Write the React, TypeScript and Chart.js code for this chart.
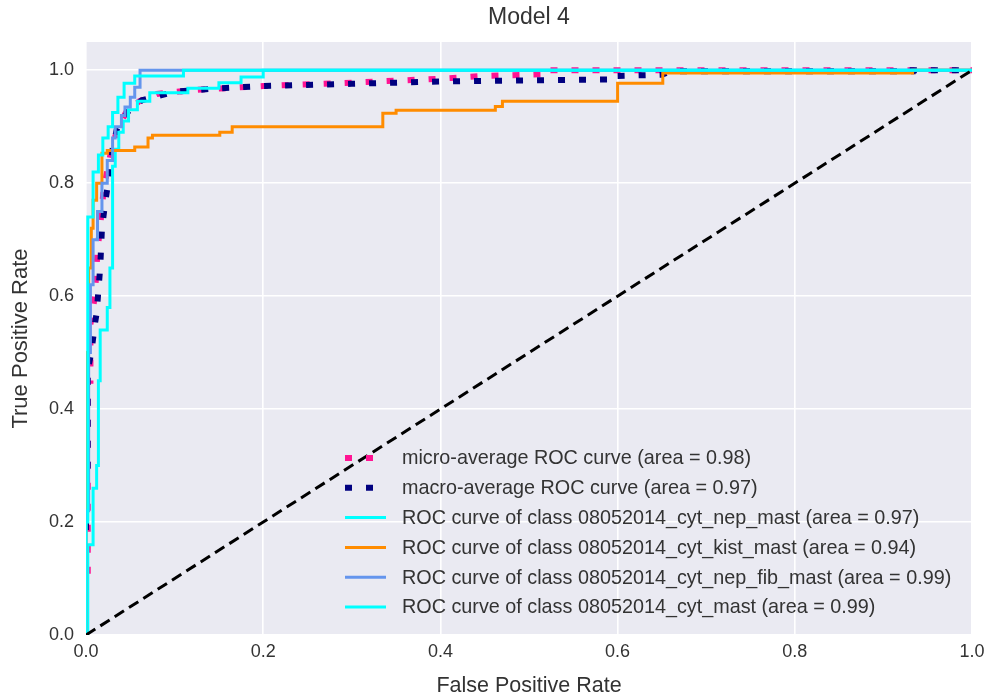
import React, { useEffect, useRef } from 'react';
import { Chart, registerables } from 'chart.js';

Chart.register(...registerables);

const TITLE = 'Model 4';
const X_LABEL = 'False Positive Rate';
const Y_LABEL = 'True Positive Rate';
const X_TICKS = [0, 0.2, 0.4, 0.6, 0.8, 1.0];
const Y_TICKS = [0, 0.2, 0.4, 0.6, 0.8, 1.0];

const LABELS = [
  'micro-average ROC curve (area = 0.98)',
  'macro-average ROC curve (area = 0.97)',
  'ROC curve of class 08052014_cyt_nep_mast (area = 0.97)',
  'ROC curve of class 08052014_cyt_kist_mast (area = 0.94)',
  'ROC curve of class 08052014_cyt_nep_fib_mast (area = 0.99)',
  'ROC curve of class 08052014_cyt_mast (area = 0.99)',
];
const COLORS = ['#FF1493', '#000080', '#00FFFF', '#FF8C00', '#6495ED', '#00FFFF'];

// [fpr, tpr]
const microAvg = [
  [0, 0], [0, 0.1], [0.002, 0.1], [0.002, 0.45], [0.005, 0.45], [0.005, 0.55], [0.01, 0.6],
  [0.013, 0.68], [0.017, 0.74], [0.02, 0.79], [0.025, 0.83], [0.03, 0.87], [0.037, 0.9],
  [0.045, 0.925], [0.06, 0.945], [0.08, 0.958], [0.12, 0.965], [0.2, 0.972], [0.3, 0.978],
  [0.4, 0.985], [0.45, 0.99], [0.52, 0.993], [0.52, 1.0], [1, 1],
];
const macroAvg = [
  [0, 0], [0, 0.3], [0.002, 0.3], [0.002, 0.47], [0.006, 0.5], [0.01, 0.55], [0.012, 0.57],
  [0.016, 0.65], [0.018, 0.72], [0.022, 0.77], [0.027, 0.82], [0.03, 0.86], [0.035, 0.897],
  [0.047, 0.926], [0.063, 0.947], [0.1, 0.962], [0.15, 0.968], [0.2, 0.972], [0.3, 0.976],
  [0.4, 0.98], [0.6, 0.984], [0.6, 0.99], [0.65, 0.992], [0.66, 0.998], [0.933, 0.998],
  [0.933, 1.0], [1, 1],
];
const cytNepMast = [
  [0, 0], [0.002, 0], [0.002, 0.16], [0.008, 0.16], [0.008, 0.26], [0.012, 0.26], [0.012, 0.3],
  [0.014, 0.3], [0.014, 0.45], [0.016, 0.45], [0.016, 0.54], [0.024, 0.54], [0.024, 0.58],
  [0.027, 0.58], [0.027, 0.65], [0.03, 0.65], [0.03, 0.83], [0.033, 0.83], [0.033, 0.86],
  [0.037, 0.86], [0.037, 0.89], [0.042, 0.89], [0.042, 0.91], [0.048, 0.91], [0.048, 0.93],
  [0.058, 0.93], [0.058, 0.945], [0.072, 0.945], [0.072, 0.96], [0.115, 0.96], [0.115, 0.968],
  [0.15, 0.968], [0.15, 0.978], [0.175, 0.978], [0.175, 0.988], [0.2, 0.988], [0.2, 1.0], [1, 1],
];
const cytKistMast = [
  [0, 0], [0, 0.5], [0.003, 0.5], [0.003, 0.65], [0.006, 0.65], [0.006, 0.72], [0.008, 0.72],
  [0.008, 0.77], [0.012, 0.77], [0.012, 0.8], [0.018, 0.8], [0.018, 0.853], [0.024, 0.853],
  [0.024, 0.858], [0.055, 0.858], [0.055, 0.864], [0.07, 0.864], [0.07, 0.88], [0.075, 0.88],
  [0.075, 0.885], [0.151, 0.885], [0.151, 0.89], [0.165, 0.89], [0.165, 0.9], [0.335, 0.9],
  [0.335, 0.924], [0.35, 0.924], [0.35, 0.929], [0.462, 0.929], [0.462, 0.936], [0.47, 0.936],
  [0.47, 0.945], [0.6, 0.945], [0.6, 0.977], [0.651, 0.977], [0.651, 0.995], [0.933, 0.995],
  [0.933, 1.0], [1, 1],
];
const cytNepFibMast = [
  [0, 0], [0, 0.22], [0.003, 0.22], [0.003, 0.5], [0.005, 0.5], [0.005, 0.62], [0.008, 0.62],
  [0.008, 0.7], [0.013, 0.7], [0.013, 0.75], [0.018, 0.75], [0.018, 0.8], [0.024, 0.8],
  [0.024, 0.84], [0.03, 0.84], [0.03, 0.88], [0.033, 0.88], [0.033, 0.9], [0.04, 0.9],
  [0.04, 0.92], [0.044, 0.92], [0.044, 0.935], [0.05, 0.935], [0.05, 0.952], [0.055, 0.952],
  [0.055, 0.97], [0.061, 0.97], [0.061, 1.0], [1, 1],
];
const cytMast = [
  [0, 0], [0, 0.2], [0.002, 0.2], [0.002, 0.74], [0.008, 0.74], [0.008, 0.82], [0.014, 0.82],
  [0.014, 0.85], [0.019, 0.85], [0.019, 0.88], [0.025, 0.88], [0.025, 0.9], [0.03, 0.9],
  [0.03, 0.925], [0.036, 0.925], [0.036, 0.952], [0.043, 0.952], [0.043, 0.977], [0.055, 0.977],
  [0.055, 0.99], [0.11, 0.99], [0.11, 1.0], [1, 1],
];
const chanceLine = [[0, 0], [1, 1]];

const SERIES = [microAvg, macroAvg, cytNepMast, cytKistMast, cytNepFibMast, cytMast];

const FONT = '"Liberation Sans", Arial, Helvetica, sans-serif';
const TEXT = '#333333';

const bgPlugin = {
  id: 'bg',
  beforeDraw(chart: any) {
    const { ctx, chartArea: a } = chart;
    ctx.save();
    ctx.fillStyle = '#EAEAF2';
    ctx.fillRect(a.left, a.top, a.right - a.left, a.bottom - a.top);
    ctx.restore();
  },
};

const titlePlugin = {
  id: 'axesTitle',
  afterDraw(chart: any) {
    const { ctx, chartArea: a } = chart;
    ctx.save();
    ctx.fillStyle = TEXT;
    ctx.font = `23px ${FONT}`;
    ctx.textAlign = 'center';
    ctx.textBaseline = 'middle';
    ctx.fillText(TITLE, (a.left + a.right) / 2, a.top - 24);
    ctx.restore();
  },
};

const legendPlugin = {
  id: 'innerLegend',
  afterDraw(chart: any) {
    const { ctx, chartArea: a } = chart;
    const rowH = 29.8;
    const n = LABELS.length;
    const y0 = a.bottom - 28 - (n - 1) * rowH;
    const hx0 = a.left + 259;
    const hx1 = a.left + 300;
    const tx = a.left + 316;
    ctx.save();
    for (let i = 0; i < n; i++) {
      const ds = chart.data.datasets[i];
      const y = y0 + i * rowH;
      ctx.strokeStyle = ds.borderColor;
      ctx.lineWidth = ds.borderWidth;
      ctx.setLineDash(ds.borderDash || []);
      ctx.lineCap = 'butt';
      ctx.beginPath();
      ctx.moveTo(hx0, y);
      ctx.lineTo(hx1, y);
      ctx.stroke();
      ctx.setLineDash([]);
      ctx.fillStyle = TEXT;
      ctx.font = `19.8px ${FONT}`;
      ctx.textBaseline = 'middle';
      ctx.textAlign = 'left';
      ctx.fillText(LABELS[i], tx, y + 1);
    }
    ctx.restore();
  },
};

export default function App() {
  const ref = useRef<HTMLCanvasElement | null>(null);

  useEffect(() => {
    if (!ref.current) return;
    const toXY = (arr: number[][]) => arr.map(([x, y]) => ({ x, y }));
    const datasets: any[] = SERIES.map((s, i) => ({
      label: LABELS[i],
      data: toXY(s),
      borderColor: COLORS[i],
      backgroundColor: COLORS[i],
      borderWidth: i < 2 ? 6 : 3,
      borderDash: i < 2 ? [7, 14] : [],
      borderCapStyle: 'butt',
      showLine: true,
      pointRadius: 0,
      tension: 0,
      fill: false,
      order: 6 - i,
    }));
    datasets.push({
      label: 'chance',
      data: toXY(chanceLine),
      borderColor: '#000000',
      borderWidth: 3,
      borderDash: [11, 6],
      showLine: true,
      pointRadius: 0,
      fill: false,
      order: 0,
    });

    const chart = new Chart(ref.current, {
      type: 'scatter',
      data: { datasets },
      plugins: [bgPlugin, titlePlugin, legendPlugin],
      options: {
        animation: false,
        responsive: true,
        maintainAspectRatio: false,
        layout: { padding: { left: 0, right: 20, top: 42, bottom: 0 } },
        plugins: {
          legend: { display: false },
          tooltip: { enabled: false },
          title: { display: false },
        },
        scales: {
          x: {
            type: 'linear',
            min: 0,
            max: 1,
            afterBuildTicks: (s: any) => { s.ticks = X_TICKS.map((v) => ({ value: v })); },
            afterFit: (s: any) => { s.height = 64; },
            ticks: {
              color: TEXT,
              font: { family: FONT, size: 18 },
              padding: 6,
              callback: (v: any) => Number(v).toFixed(1),
              maxRotation: 0,
            },
            grid: { color: '#FFFFFF', lineWidth: 1.6, drawTicks: false },
            border: { display: false },
            title: {
              display: true,
              text: X_LABEL,
              color: TEXT,
              font: { family: FONT, size: 21.5 },
              padding: { top: 0, bottom: 0 },
            },
          },
          y: {
            type: 'linear',
            min: 0,
            max: 1.05,
            afterBuildTicks: (s: any) => { s.ticks = Y_TICKS.map((v) => ({ value: v })); },
            afterFit: (s: any) => { s.width = 86; },
            ticks: {
              color: TEXT,
              font: { family: FONT, size: 18 },
              padding: 12,
              callback: (v: any) => Number(v).toFixed(1),
            },
            grid: { color: '#FFFFFF', lineWidth: 1.6, drawTicks: false },
            border: { display: false },
            title: {
              display: true,
              text: Y_LABEL,
              color: TEXT,
              font: { family: FONT, size: 22 },
              padding: { top: 8, bottom: 0 },
            },
          },
        },
      },
    });
    return () => chart.destroy();
  }, []);

  return (
    <div style={{ position: 'fixed', left: 0, top: 0, width: 992, height: 699, background: '#FFFFFF' }}>
      <canvas ref={ref} />
    </div>
  );
}
